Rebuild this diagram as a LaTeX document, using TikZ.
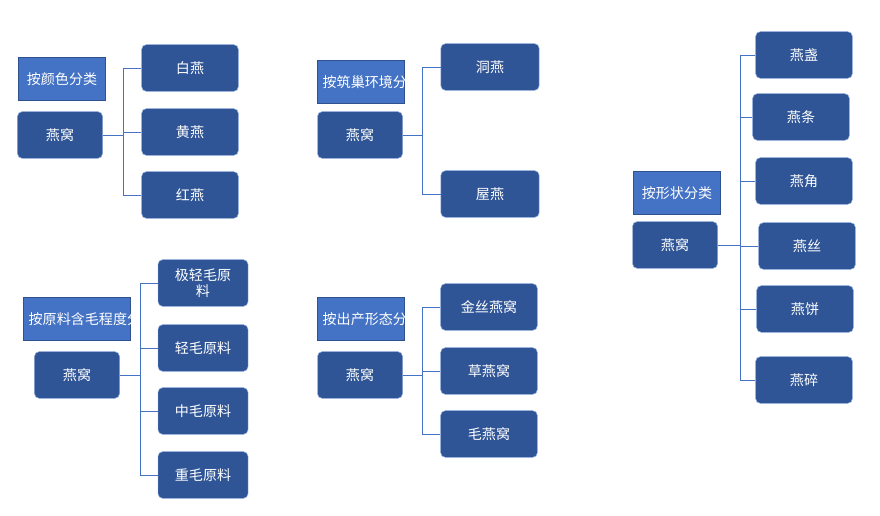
\documentclass[tikz,border=0pt]{standalone}
\usepackage{fontspec}
\setmainfont{Noto Sans CJK SC}
\definecolor{boxblue}{HTML}{2F5597}
\definecolor{tagblue}{HTML}{4472C4}
\definecolor{tagline}{HTML}{2F528F}
\tikzset{
  item/.style={draw=tagblue!60, fill=boxblue, rounded corners=4pt, text=white,
    minimum height=1.4cm, inner sep=1pt, font=\fontsize{12}{14}\selectfont},
  tag/.style={draw=tagline, thick, fill=tagblue, text=white, align=center,
    minimum width=2.6cm, minimum height=1.3cm, inner sep=1pt,
    text width=2.3cm, font=\fontsize{12}{14}\selectfont},
  link/.style={draw=tagblue, thick}
}
\begin{document}
\begin{tikzpicture}[x=0.03cm, y=-0.03cm]
    \useasboundingbox (0,0) rectangle (880,516);

    % COLOUR
    \node[tag] (tagA) at (62,79) {按颜色分类};
    \node[item, minimum width=2.55cm] (rootA) at (60,135) {燕窝};
    \coordinate (trunkA) at (123,135);
    \foreach \name/\y/\txt in {a1/68/白燕, a2/132/黄燕, a3/195/红燕} {
    \node[item, minimum width=2.9cm] (\name) at (190,\y) {\txt};
    \draw[link] (\name.west) -- (\name.west -| trunkA);
    }
    \draw[link] (rootA.east) -- (trunkA);
    \draw[link] (a1.west -| trunkA) -- (a3.west -| trunkA);

    % NEST
    \node[tag] (tagB) at (361,82) {按筑巢环境分类};
    \node[item, minimum width=2.55cm] (rootB) at (360,135) {燕窝};
    \coordinate (trunkB) at (422,135);
    \foreach \name/\y/\txt in {b1/67/洞燕, b2/194/屋燕} {
    \node[item, minimum width=2.95cm] (\name) at (490,\y) {\txt};
    \draw[link] (\name.west) -- (\name.west -| trunkB);
    }
    \draw[link] (rootB.east) -- (trunkB);
    \draw[link] (b1.west -| trunkB) -- (b2.west -| trunkB);

    % FEATHER
    \node[tag, minimum width=3.2cm, text width=2.9cm] (tagC) at (77,319) {按原料含毛程度分类};
    \node[item, minimum width=2.55cm] (rootC) at (77,375) {燕窝};
    \coordinate (trunkC) at (140,375);
    \foreach \name/\y/\txt in {c1/283/{极轻毛原\\料}, c2/348/轻毛原料, c3/411/中毛原料, c4/475/重毛原料} {
    \node[item, minimum width=2.7cm, align=center] (\name) at (203,\y) {\txt};
    \draw[link] (\name.west) -- (\name.west -| trunkC);
    }
    \draw[link] (rootC.east) -- (trunkC);
    \draw[link] (c1.west -| trunkC) -- (c4.west -| trunkC);

    % ORIGIN
    \node[tag] (tagD) at (361,319) {按出产形态分类};
    \node[item, minimum width=2.55cm] (rootD) at (360,375) {燕窝};
    \coordinate (trunkD) at (422,375);
    \foreach \name/\y/\txt in {d1/307/金丝燕窝, d2/371/草燕窝, d3/434/毛燕窝} {
    \node[item, minimum width=2.9cm] (\name) at (489,\y) {\txt};
    \draw[link] (\name.west) -- (\name.west -| trunkD);
    }
    \draw[link] (rootD.east) -- (trunkD);
    \draw[link] (d1.west -| trunkD) -- (d3.west -| trunkD);

    % SHAPE
    \node[tag] (tagE) at (677,193) {按形状分类};
    \node[item, minimum width=2.55cm] (rootE) at (675,245) {燕窝};
    \coordinate (trunkE) at (740,245);
    \foreach \name/\x/\y/\txt in {e1/804/55/燕盏, e2/801/117/燕条, e3/804/181/燕角, e4/807/246/燕丝, e5/805/309/燕饼, e6/804/380/燕碎} {
    \node[item, minimum width=2.9cm] (\name) at (\x,\y) {\txt};
    \draw[link] (\name.west) -- (\name.west -| trunkE);
    }
    \draw[link] (rootE.east) -- (trunkE);
    \draw[link] (e1.west -| trunkE) -- (e6.west -| trunkE);
\end{tikzpicture}
\end{document}
